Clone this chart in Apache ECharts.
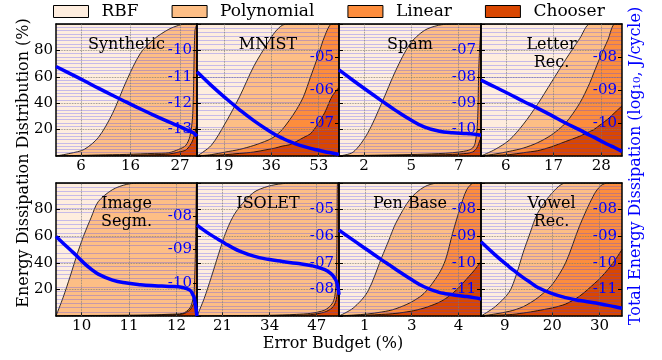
<!DOCTYPE html>
<html>
<head>
<meta charset="utf-8">
<script src="https://cdn.jsdelivr.net/npm/echarts@6/dist/echarts.min.js"></script>
<style>
html, body { margin: 0; padding: 0; background: #fff; }
#chart { width: 662px; height: 360px; }
</style>
</head>
<body>
<div id="chart"></div>
<script>
// legend / layers (top of stack first)
const layerNames = ['RBF', 'Polynomial', 'Linear', 'Chooser'];
const layerColors = ['#feedde', '#fdbe85', '#fd8d3c', '#d94701'];
const panelNames = ['Synthetic', 'MNIST', 'Spam', 'Letter\nRec.', 'Image\nSegm.', 'ISOLET', 'Pen Base', 'Vowel\nRec.'];

// Synthetic
const synX = [0.66, 3.62, 6.58, 9.54, 12.5, 15.46, 18.42, 21.38, 24.34, 26.41, 27.89, 28.78, 29.37, 29.82, 30.26];
const synChooser = [0, 0.1, 0.1, 0.2, 0.3, 0.5, 0.7, 1, 1.5, 3, 4.5, 8, 12, 18, 24];
const synLinear = [0, 0.2, 0.4, 0.6, 0.7, 0.7, 0.9, 1, 1, 2, 3.5, 7, 20, 77, 76];
const synPoly = [0, 1.7, 4.5, 13.2, 31, 55.8, 76.4, 87, 93.5, 94, 92, 85, 68, 5, 0];
const synRbf = [100, 98, 95, 86, 68, 43, 22, 11, 4, 1, 0, 0, 0, 0, 0];
const synEnergy = [-10.61, -10.88, -11.15, -11.43, -11.7, -11.96, -12.22, -12.47, -12.71, -12.87, -12.99, -13.06, -13.11, -13.17, -13.25];
const synXRange = [0.66, 30.26];
const synTicks = [5.9, 16.3, 26.7];
const synTickLabels = ['6', '16', '27'];
const synERange = [-14, -9];

// MNIST
const mnX = [9.3, 14.4, 19.5, 24.6, 29.7, 34.8, 37.35, 39.9, 42.45, 45.0, 47.55, 50.1, 52.65, 55.2, 57.75, 60.3];
const mnChooser = [0, 0.5, 1, 2, 3, 5, 6, 7.5, 8.5, 11, 14, 17, 24, 33, 45, 52];
const mnLinear = [0, 0.5, 2, 3, 5, 7, 9, 12.5, 18.5, 24, 31, 43, 51, 58, 55, 48];
const mnPoly = [0, 7, 22, 40, 60, 74, 79, 79, 73, 65, 55, 40, 25, 9, 0, 0];
const mnRbf = [100, 92, 75, 55, 32, 14, 6, 1, 0, 0, 0, 0, 0, 0, 0, 0];
const mnEnergy = [-5.45, -5.86, -6.24, -6.6, -6.93, -7.22, -7.35, -7.46, -7.56, -7.64, -7.71, -7.77, -7.82, -7.87, -7.91, -7.95];
const mnXRange = [9.3, 60.3];
const mnTicks = [19, 36, 53];
const mnTickLabels = ['19', '36', '53'];
const mnERange = [-8, -4];

// Spam
const spX = [1.19, 1.88, 2.57, 3.26, 3.95, 4.64, 5.32, 6.01, 6.70, 7.39, 7.67, 7.80, 7.91, 7.98, 8.08];
const spChooser = [0, 0.1, 0.2, 0.3, 0.4, 0.5, 0.7, 0.9, 1.2, 2, 3, 4.5, 7, 10, 14];
const spLinear = [0, 0.2, 0.3, 0.4, 0.5, 0.6, 0.7, 0.9, 1.3, 2, 3, 5.5, 18, 60, 86];
const spPoly = [0, 2.7, 16.5, 39.3, 64.1, 83.9, 93.6, 97.2, 97.5, 96, 94, 90, 75, 30, 0];
const spRbf = [100, 97, 83, 60, 35, 15, 5, 1, 0, 0, 0, 0, 0, 0, 0];
const spEnergy = [-7.74, -8.14, -8.53, -8.91, -9.28, -9.62, -9.9, -10.05, -10.12, -10.15, -10.17, -10.18, -10.19, -10.2, -10.2];
const spXRange = [1.19, 8.08];
const spTicks = [2.4, 4.7, 7.0];
const spTickLabels = ['2', '5', '7'];
const spERange = [-11, -6];

// Letter Rec.
const ltX = [0.28, 3.53, 6.78, 10.03, 13.28, 16.53, 19.78, 23.03, 25.31, 26.28, 27.9, 29.53, 31.15, 32.78];
const ltChooser = [0, 0.5, 1, 2.5, 4, 7, 11, 15, 18.5, 20, 24, 28, 33, 38];
const ltLinear = [0, 1, 2.5, 3.5, 6, 9, 14, 25, 36.5, 43, 52, 60, 67, 62];
const ltPoly = [0, 3.5, 8.5, 18, 29, 40, 48, 49, 45, 37, 24, 12, 0, 0];
const ltRbf = [100, 95, 88, 76, 61, 44, 27, 11, 0, 0, 0, 0, 0, 0];
const ltEnergy = [-8.7, -8.91, -9.12, -9.34, -9.55, -9.77, -10.0, -10.21, -10.37, -10.43, -10.54, -10.65, -10.75, -10.86];
const ltXRange = [0.28, 32.78];
const ltTicks = [6, 17, 28];
const ltTickLabels = ['6', '17', '28'];
const ltERange = [-11, -7];

// Image Segm.
const imX = [9.46, 9.61, 9.76, 9.91, 10.05, 10.20, 10.35, 10.65, 10.95, 11.24, 11.54, 11.84, 12.13, 12.28, 12.34, 12.37, 12.40, 12.42, 12.43];
const imChooser = [0, 0.05, 0.1, 0.1, 0.1, 0.2, 0.2, 0.2, 0.3, 0.4, 0.5, 0.8, 1.5, 4.5, 8, 10, 13, 16, 17];
const imLinear = [0, 0.05, 0.1, 0.2, 0.2, 0.2, 0.2, 0.3, 0.3, 0.3, 0.4, 0.5, 0.5, 1.5, 4, 8, 42, 84, 83];
const imPoly = [0, 13.9, 29.8, 46.7, 60.7, 73.6, 85.6, 94.5, 98.4, 99.3, 99.1, 98.7, 98, 94, 88, 82, 45, 0, 0];
const imRbf = [100, 86, 70, 53, 39, 26, 14, 5, 1, 0, 0, 0, 0, 0, 0, 0, 0, 0, 0];
const imEnergy = [-8.61, -8.81, -9.01, -9.21, -9.41, -9.59, -9.74, -9.92, -10.01, -10.06, -10.09, -10.11, -10.14, -10.22, -10.35, -10.45, -10.7, -10.9, -11.0];
const imXRange = [9.46, 12.43];
const imTicks = [10, 11, 12];
const imTickLabels = ['10', '11', '12'];
const imERange = [-11, -7];

// ISOLET
const isX = [13.95, 15.91, 17.87, 19.83, 21.79, 23.75, 25.71, 29.63, 33.55, 37.47, 41.39, 45.31, 49.23, 51.19, 51.97, 52.37, 52.56, 52.76, 53.15];
const isChooser = [0, 0, 0, 0.05, 0.05, 0.1, 0.1, 0.15, 0.2, 0.3, 0.5, 1, 3, 6, 9, 12, 15, 18, 30];
const isLinear = [0, 0.05, 0.1, 0.1, 0.15, 0.15, 0.2, 0.25, 0.3, 0.5, 0.7, 1, 1.5, 3, 5.5, 16, 40, 82, 70];
const isPoly = [0, 12.95, 28.9, 45.85, 61.8, 73.75, 81.7, 92.6, 97, 98.7, 98.8, 98, 95.5, 91, 85.5, 72, 45, 0, 0];
const isRbf = [100, 87, 71, 54, 38, 26, 18, 7, 2.5, 0.5, 0, 0, 0, 0, 0, 0, 0, 0, 0];
const isEnergy = [-5.58, -5.78, -5.96, -6.12, -6.28, -6.43, -6.56, -6.75, -6.87, -6.95, -7.02, -7.1, -7.26, -7.44, -7.58, -7.68, -7.76, -7.85, -8.2];
const isXRange = [13.95, 53.15];
const isTicks = [21, 34, 47];
const isTickLabels = ['21', '34', '47'];
const isERange = [-9, -4];

// Pen Base
const pbX = [0.71, 1.09, 1.47, 1.85, 2.04, 2.23, 2.61, 2.98, 3.36, 3.55, 3.74, 3.93, 4.12, 4.31, 4.50];
const pbChooser = [0, 0.3, 0.6, 1.2, 1.5, 2, 3.5, 6, 10, 13, 17, 22, 28, 34, 41];
const pbLinear = [0, 0.4, 0.9, 1.8, 2.5, 3.5, 6.5, 11, 21, 29, 45, 58, 67, 66, 59];
const pbPoly = [0, 5.3, 16.5, 41, 53, 64.5, 78, 80, 69, 58, 38, 20, 5, 0, 0];
const pbRbf = [100, 94, 82, 56, 43, 30, 12, 3, 0, 0, 0, 0, 0, 0, 0];
const pbEnergy = [-8.77, -9.15, -9.52, -9.89, -10.07, -10.25, -10.6, -10.9, -11.1, -11.16, -11.2, -11.24, -11.27, -11.31, -11.36];
const pbXRange = [0.71, 4.5];
const pbTicks = [1.4, 2.65, 3.9];
const pbTickLabels = ['1', '3', '4'];
const pbERange = [-12, -7];

// Vowel Rec.
const vwX = [4.0, 7.13, 10.26, 11.83, 13.39, 14.96, 16.52, 19.65, 22.78, 25.91, 29.04, 30.61, 32.17, 33.74, 35.3];
const vwChooser = [0, 0.5, 1, 1.5, 2.3, 3, 4, 6, 9, 15, 24, 29, 35, 42, 50];
const vwLinear = [0, 1, 2.5, 3.5, 4.7, 7, 9.5, 17, 31, 53, 67, 69, 65, 58, 50];
const vwPoly = [0, 5.5, 14.5, 26, 41, 53, 63.5, 69, 60, 32, 9, 2, 0, 0, 0];
const vwRbf = [100, 93, 82, 69, 52, 37, 23, 8, 0, 0, 0, 0, 0, 0, 0];
const vwEnergy = [-9.21, -9.7, -10.15, -10.36, -10.56, -10.74, -10.92, -11.15, -11.31, -11.42, -11.5, -11.55, -11.6, -11.65, -11.71];
const vwXRange = [4.0, 35.3];
const vwTicks = [9.3, 19.8, 30.3];
const vwTickLabels = ['9', '20', '30'];
const vwERange = [-12, -7];

const panels = [
  { x: synX, layers: [synRbf, synPoly, synLinear, synChooser], energy: synEnergy, xRange: synXRange, ticks: synTicks, tickLabels: synTickLabels, eRange: synERange },
  { x: mnX, layers: [mnRbf, mnPoly, mnLinear, mnChooser], energy: mnEnergy, xRange: mnXRange, ticks: mnTicks, tickLabels: mnTickLabels, eRange: mnERange },
  { x: spX, layers: [spRbf, spPoly, spLinear, spChooser], energy: spEnergy, xRange: spXRange, ticks: spTicks, tickLabels: spTickLabels, eRange: spERange },
  { x: ltX, layers: [ltRbf, ltPoly, ltLinear, ltChooser], energy: ltEnergy, xRange: ltXRange, ticks: ltTicks, tickLabels: ltTickLabels, eRange: ltERange },
  { x: imX, layers: [imRbf, imPoly, imLinear, imChooser], energy: imEnergy, xRange: imXRange, ticks: imTicks, tickLabels: imTickLabels, eRange: imERange },
  { x: isX, layers: [isRbf, isPoly, isLinear, isChooser], energy: isEnergy, xRange: isXRange, ticks: isTicks, tickLabels: isTickLabels, eRange: isERange },
  { x: pbX, layers: [pbRbf, pbPoly, pbLinear, pbChooser], energy: pbEnergy, xRange: pbXRange, ticks: pbTicks, tickLabels: pbTickLabels, eRange: pbERange },
  { x: vwX, layers: [vwRbf, vwPoly, vwLinear, vwChooser], energy: vwEnergy, xRange: vwXRange, ticks: vwTicks, tickLabels: vwTickLabels, eRange: vwERange }
];

const FONT = 'DejaVu Serif';
const colLeft = [56, 197, 339, 481];
const colWidth = [141, 142, 142, 141];
const rowTop = [24, 183];
const rowHeight = [132, 133];
const border = { color: '#000', width: 1.5 };

const grid = [], xAxis = [], yAxis = [], series = [], graphic = [];

function padExp(v) {
  return (v < 0 ? '-' : '') + String(Math.abs(v)).padStart(2, '0');
}

panels.forEach((p, i) => {
  const col = i % 4, row = Math.floor(i / 4);
  grid.push({ left: colLeft[col], top: rowTop[row], width: colWidth[col], height: rowHeight[row] });

  xAxis.push({
    type: 'value', gridIndex: i, min: p.xRange[0], max: p.xRange[1], z: 4,
    axisLine: { show: true, onZero: false, lineStyle: border },
    axisTick: { show: true, inside: true, length: 4, customValues: p.ticks, lineStyle: { color: '#000' } },
    axisLabel: {
      customValues: p.ticks, margin: 3, color: '#000', fontFamily: FONT, fontSize: 15,
      formatter: v => { const k = p.ticks.findIndex(t => Math.abs(t - v) < 1e-6); return k >= 0 ? p.tickLabels[k] : ''; }
    },
    splitLine: { show: false }
  });
  xAxis.push({
    type: 'value', gridIndex: i, position: 'top', min: p.xRange[0], max: p.xRange[1], z: 4,
    axisLine: { show: true, onZero: false, lineStyle: border },
    axisTick: { show: false }, axisLabel: { show: false }, splitLine: { show: false }
  });

  yAxis.push({
    type: 'value', gridIndex: i, position: 'left', min: 0, max: 100, interval: 20, z: 4,
    axisLine: { show: true, lineStyle: border },
    axisTick: { show: true, inside: true, length: 4, lineStyle: { color: '#000' } },
    axisLabel: { show: col === 0, showMinLabel: false, showMaxLabel: false, margin: 3, color: '#000', fontFamily: FONT, fontSize: 15 },
    splitLine: { show: true, lineStyle: { color: '#777', type: 'dotted', width: 0.8 } }
  });
  yAxis.push({
    type: 'value', gridIndex: i, position: 'right', min: p.eRange[0], max: p.eRange[1], interval: 1, z: 4,
    axisLine: { show: true, lineStyle: border },
    axisTick: { show: true, inside: true, length: 4, lineStyle: { color: '#000' } },
    axisLabel: { inside: true, showMinLabel: false, showMaxLabel: false, margin: 5, color: '#0000ff', fontFamily: FONT, fontSize: 15, formatter: padExp },
    splitLine: { show: false },
    minorTick: { show: false, splitNumber: 8 },
    minorSplitLine: { show: true, lineStyle: { color: 'rgba(70,70,255,0.3)', type: 'solid', width: 1 } }
  });

  // stack the shares ourselves (Chooser at the bottom), then paint the
  // layers from the top band down so each lower band covers the one above
  const tops = [];
  let run = p.x.map(() => 0);
  for (let k = 3; k >= 0; k--) {
    run = run.map((c, j) => c + p.layers[k][j]);
    tops[k] = run;
  }
  for (let k = 0; k < 4; k++) {
    series.push({
      name: layerNames[k], type: 'line', xAxisIndex: 2 * i, yAxisIndex: 2 * i,
      data: p.x.map((x, j) => [x, tops[k][j]]),
      smooth: 0.3, symbol: 'none', showSymbol: false,
      lineStyle: { color: '#000', width: 0.8 },
      itemStyle: { color: layerColors[k] },
      areaStyle: { color: layerColors[k], opacity: 1, origin: 'start' },
      z: 2, silent: true
    });
  }
  series.push({
    name: 'energy', type: 'line', xAxisIndex: 2 * i, yAxisIndex: 2 * i + 1,
    data: p.x.map((x, j) => [x, p.energy[j]]),
    smooth: 0.45, symbol: 'none', showSymbol: false,
    lineStyle: { color: '#0000ff', width: 3.5 },
    itemStyle: { color: '#0000ff' },
    z: 6, silent: true,
    markLine: {
      silent: true, symbol: ['none', 'none'], label: { show: false },
      lineStyle: { color: '#777', type: 'dotted', width: 0.8 },
      data: p.ticks.map(v => ({ xAxis: v }))
    }
  });

  graphic.push({
    type: 'text', z: 10, x: colLeft[col] + colWidth[col] / 2, y: rowTop[row] + 12,
    style: { text: panelNames[i], fill: '#000', font: '16px "' + FONT + '"', textAlign: 'center', textVerticalAlign: 'top', lineHeight: 18 }
  });
});

graphic.push({
  type: 'text', z: 10, x: 24, y: 163, rotation: Math.PI / 2,
  style: { text: 'Energy Dissipation Distribution (%)', fill: '#000', font: '16px "' + FONT + '"', textAlign: 'center', textVerticalAlign: 'middle' }
});
graphic.push({
  type: 'text', z: 10, x: 636, y: 166, rotation: Math.PI / 2,
  style: { text: 'Total Energy Dissipation (log\u2081\u2080, J/cycle)', fill: '#0000ff', font: '16px "' + FONT + '"', textAlign: 'center', textVerticalAlign: 'middle' }
});
graphic.push({
  type: 'text', z: 10, x: 333, y: 344,
  style: { text: 'Error Budget (%)', fill: '#000', font: '16px "' + FONT + '"', textAlign: 'center', textVerticalAlign: 'middle' }
});

const chart = echarts.init(document.getElementById('chart'), null, { renderer: 'canvas' });
chart.setOption({
  animation: false,
  backgroundColor: '#fff',
  legend: {
    data: layerNames, icon: 'rect', left: 53, top: 3, padding: 0, itemWidth: 35, itemHeight: 12, itemGap: 33,
    itemStyle: { borderColor: '#000', borderWidth: 1 },
    textStyle: { fontFamily: FONT, fontSize: 17, color: '#000', padding: [0, 0, 0, 8] }
  },
  grid: grid,
  xAxis: xAxis,
  yAxis: yAxis,
  series: series,
  graphic: graphic
});
</script>
</body>
</html>
